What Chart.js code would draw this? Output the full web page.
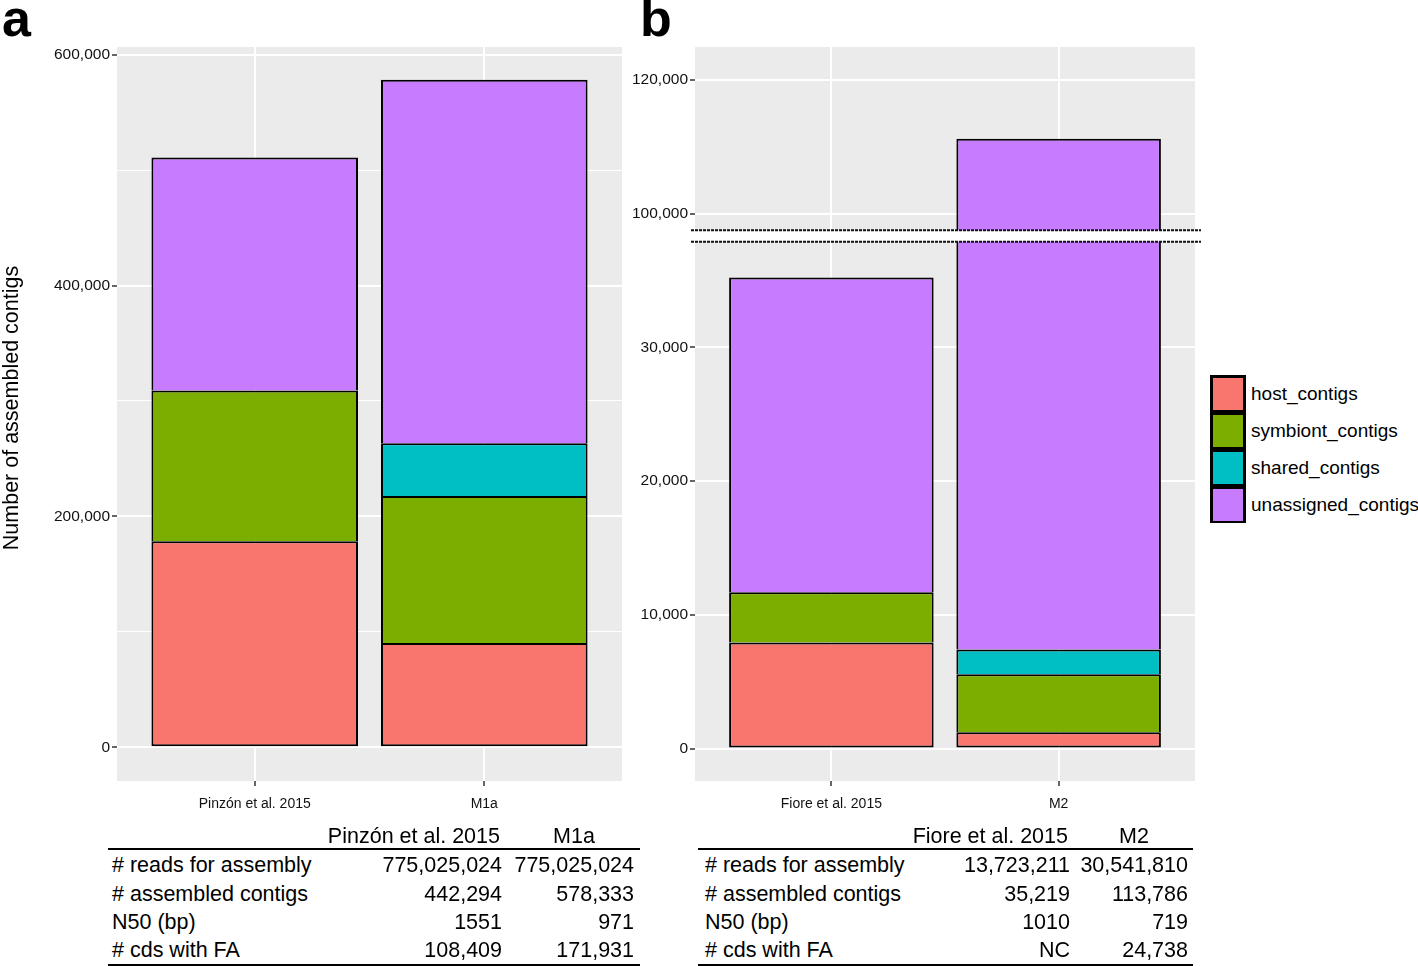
<!DOCTYPE html>
<html><head><meta charset="utf-8">
<script src="https://cdn.jsdelivr.net/npm/chart.js@4.4.0/dist/chart.umd.min.js"></script>
<style>
html,body{margin:0;padding:0;background:#fff;width:1418px;height:966px;overflow:hidden;font-family:"Liberation Sans",Arial,Helvetica,sans-serif;color:#000}
.abs{position:absolute;white-space:nowrap}
#wrapA{position:absolute;left:0;top:0;width:640px;height:830px}
#wrapB{position:absolute;left:600px;top:0;width:610px;height:830px}
.panel{font-weight:bold;font-size:52px;line-height:52px}
.tc{font-size:21.5px;line-height:28px;height:28px}
.hl{position:absolute;height:2px;background:#000}
.lg{font-size:19px;line-height:24px;height:24px}
</style></head>
<body>
<div id="wrapA"><canvas id="chartA"></canvas></div>
<div id="wrapB"><canvas id="chartB"></canvas></div>
<div class="abs panel" style="left:2px;top:-8px">a</div>
<div class="abs panel" style="left:640px;top:-8px">b</div>
<div class="abs" style="left:-139px;top:395px;width:300px;height:26px;line-height:26px;text-align:center;font-size:21.5px;transform:rotate(-90deg);color:#000">Number of assembled contigs</div>
<div id="legend"></div>
<div id="tables"></div>
<script>
// ---------------- DATA ----------------
const seriesNames = ['host_contigs', 'symbiont_contigs', 'shared_contigs', 'unassigned_contigs'];
const seriesColors = ['#F8766D', '#7CAE00', '#00BFC4', '#C77CFF'];

// Panel a
const categoriesA = ['Pinzón et al. 2015', 'M1a'];
const hostA = [178500, 90300];
const symbiontA = [130700, 127500];
const sharedA = [0, 45700];
const unassignedA = [201800, 314833];
const tickValuesA = [0, 100000, 200000, 300000, 400000, 500000, 600000];
const tickLabelsA = ['0', '', '200,000', '', '400,000', '', '600,000'];

// Panel b
const categoriesB = ['Fiore et al. 2015', 'M2'];
const hostB = [7940, 1230];
const symbiontB = [3750, 4325];
const sharedB = [0, 1860];
const unassignedB = [23529, 103785];
const tickValuesB = [0, 10000, 20000, 30000, 100000, 120000];
const tickLabelsB = ['0', '10,000', '20,000', '30,000', '100,000', '120,000'];
// axis break of panel b (raw values)
const breakLow = 37900;
const breakHigh = 97500;

// Tables
const tableRowLabels = ['# reads for assembly', '# assembled contigs', 'N50 (bp)', '# cds with FA'];
const tableA = [['775,025,024', '775,025,024'], ['442,294', '578,333'], ['1551', '971'], ['108,409', '171,931']];
const tableB = [['13,723,211', '30,541,810'], ['35,219', '113,786'], ['1010', '719'], ['NC', '24,738']];

// ---------------- broken-axis scale ----------------
const upperAnchor = 100000, upperAnchorVirtual = 40000, upperRatio = 0.5;
function fwdB(v) {
  if (v <= breakLow) return v;
  const hv = upperAnchorVirtual + (breakHigh - upperAnchor) * upperRatio;
  if (v >= breakHigh) return upperAnchorVirtual + (v - upperAnchor) * upperRatio;
  return breakLow + (v - breakLow) / (breakHigh - breakLow) * (hv - breakLow);
}
function invB(u) {
  const hv = upperAnchorVirtual + (breakHigh - upperAnchor) * upperRatio;
  if (u <= breakLow) return u;
  if (u >= hv) return upperAnchor + (u - upperAnchorVirtual) / upperRatio;
  return breakLow + (u - breakLow) / (hv - breakLow) * (breakHigh - breakLow);
}
class BrokenLinearScale extends Chart.LinearScale {
  getPixelForValue(v) {
    if (v === null || v === undefined || isNaN(v)) return NaN;
    return super.getPixelForValue(fwdB(v));
  }
  getValueForPixel(p) { return invB(super.getValueForPixel(p)); }
}
BrokenLinearScale.id = 'brokenLinear';
BrokenLinearScale.defaults = Chart.LinearScale.defaults;
Chart.register(BrokenLinearScale);

// ---------------- helpers ----------------
const bgPlugin = {
  id: 'panelBg',
  beforeDraw(chart) {
    const a = chart.chartArea, c = chart.ctx;
    c.save(); c.fillStyle = '#EBEBEB'; c.fillRect(a.left, a.top, a.right - a.left, a.bottom - a.top); c.restore();
  }
};
const breakPlugin = {
  id: 'axisBreak',
  afterDatasetsDraw(chart) {
    const y = chart.scales.y, a = chart.chartArea, c = chart.ctx;
    const y1 = y.getPixelForValue(breakLow), y2 = y.getPixelForValue(breakHigh);
    c.save();
    c.fillStyle = '#fff';
    c.fillRect(a.left - 4, y2, a.right - a.left + 10, y1 - y2);
    c.strokeStyle = '#111'; c.lineWidth = 2; c.setLineDash([3, 1]);
    [y1, y2].forEach(yy => { c.beginPath(); c.moveTo(a.left - 4, yy); c.lineTo(a.right + 6, yy); c.stroke(); });
    c.restore();
  }
};

function makeDatasets(h, s, sh, u) {
  return [h, s, sh, u].map((arr, k) => ({
    label: seriesNames[k],
    data: arr.map((v, i) => ({ x: i + 1, y: v })),
    backgroundColor: seriesColors[k],
    borderColor: '#000',
    borderWidth: 2,
    borderSkipped: k === 0 ? false : 'start',
    barPercentage: 0.9,
    categoryPercentage: 1.0,
    stack: 's'
  }));
}

function makeChart(id, cats, datasets, yType, yMin, yMax, ticks, labels, yWidth, padRight, minorTest, plugins) {
  return new Chart(document.getElementById(id), {
    type: 'bar',
    data: { datasets },
    plugins,
    options: {
      responsive: true, maintainAspectRatio: false, animation: false,
      layout: { padding: { top: 47, right: padRight, left: 0, bottom: 0 } },
      plugins: { legend: { display: false }, tooltip: { enabled: false } },
      scales: {
        x: {
          type: 'linear', min: 0.4, max: 2.6, offset: false,
          afterBuildTicks: ax => { ax.ticks = cats.map((c, i) => ({ value: i + 1 })); },
          afterFit: ax => { ax.height = 49; },
          ticks: { callback: v => cats[Math.round(v) - 1], color: '#111', font: { family: 'Liberation Sans', size: 14 }, padding: 10, maxRotation: 0, autoSkip: false },
          grid: { offset: false, color: '#fff', lineWidth: 2, tickColor: '#333', tickWidth: 1.5, tickLength: 5 },
          border: { display: false }
        },
        y: {
          type: yType, stacked: true, min: yMin, max: yMax, bounds: 'data',
          afterBuildTicks: ax => { ax.ticks = ticks.map(v => ({ value: v })); },
          afterFit: ax => { ax.width = yWidth; },
          ticks: { callback: (v, i) => labels[i], color: '#111', font: { family: 'Liberation Sans', size: 15.5 }, padding: 2, autoSkip: false },
          grid: {
            offset: false,
            color: '#fff',
            lineWidth: c => (minorTest(c.tick && c.tick.value) ? 1 : 2),
            tickColor: c => (minorTest(c.tick && c.tick.value) ? 'rgba(0,0,0,0)' : '#333'),
            tickWidth: 1.5, tickLength: 5
          },
          border: { display: false }
        }
      }
    }
  });
}

makeChart('chartA', categoriesA, makeDatasets(hostA, symbiontA, sharedA, unassignedA),
  'linear', -29150, 606625, tickValuesA, tickLabelsA, 117, 18, v => v % 200000 !== 0, [bgPlugin]);
// panel b: scale limits are given in the scale's internal (virtual) units
makeChart('chartB', categoriesB, makeDatasets(hostB, symbiontB, sharedB, unassignedB),
  'brokenLinear', -2422, 52452, tickValuesB, tickLabelsB, 95, 15, v => false, [bgPlugin, breakPlugin]);

// ---------------- legend ----------------
(function () {
  const L = document.getElementById('legend');
  let html = '<div class="abs" style="left:1210px;top:375px;width:36px;height:148px;background:#000"></div>';
  seriesNames.forEach((n, i) => {
    const top = 378 + i * 37;
    html += `<div class="abs" style="left:1213px;top:${top}px;width:30px;height:32px;background:${seriesColors[i]}"></div>`;
    html += `<div class="abs lg" style="left:1251px;top:${top + 16 - 12}px">${n}</div>`;
  });
  L.innerHTML = html;
})();

// ---------------- tables ----------------
(function () {
  const T = document.getElementById('tables');
  const rowsY = [865, 894, 922, 950];
  function table(cfg) {
    let h = '';
    h += `<div class="abs tc" style="left:${cfg.h2r - 400}px;width:400px;text-align:right;top:${836 - 14}px">${cfg.cats[0]}</div>`;
    h += `<div class="abs tc" style="left:${cfg.h3c - 100}px;width:200px;text-align:center;top:${836 - 14}px">${cfg.cats[1]}</div>`;
    h += `<div class="hl" style="left:${cfg.l}px;width:${cfg.r - cfg.l}px;top:848px"></div>`;
    h += `<div class="hl" style="left:${cfg.l}px;width:${cfg.r - cfg.l}px;top:964px"></div>`;
    tableRowLabels.forEach((lab, i) => {
      const t = rowsY[i] - 14;
      h += `<div class="abs tc" style="left:${cfg.lx}px;top:${t}px">${lab}</div>`;
      h += `<div class="abs tc" style="left:${cfg.c2r - 300}px;width:300px;text-align:right;top:${t}px">${cfg.data[i][0]}</div>`;
      h += `<div class="abs tc" style="left:${cfg.c3r - 300}px;width:300px;text-align:right;top:${t}px">${cfg.data[i][1]}</div>`;
    });
    return h;
  }
  T.innerHTML = table({ cats: categoriesA, data: tableA, l: 108, r: 640, lx: 112, h2r: 500, h3c: 574, c2r: 502, c3r: 634 }) +
    table({ cats: categoriesB, data: tableB, l: 698, r: 1193, lx: 705, h2r: 1068, h3c: 1134, c2r: 1070, c3r: 1188 });
})();
</script>
</body></html>
